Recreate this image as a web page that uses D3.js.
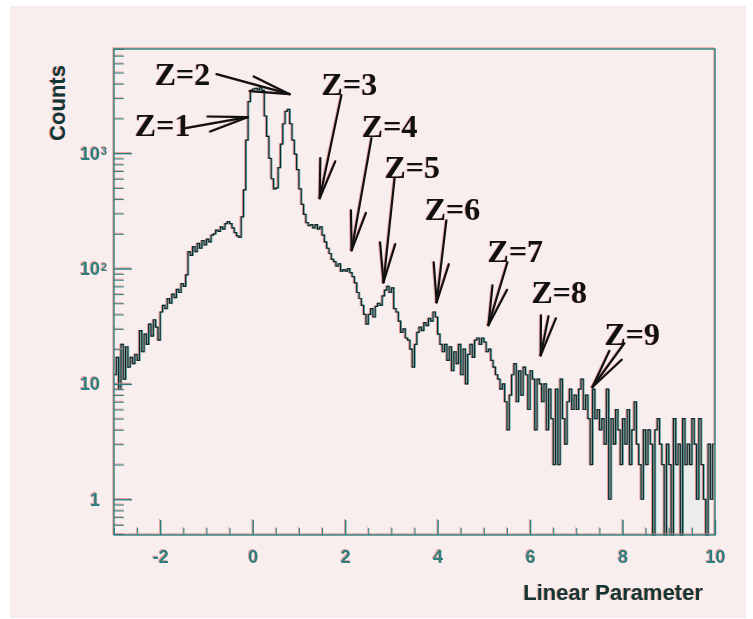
<!DOCTYPE html>
<html>
<head>
<meta charset="utf-8">
<script src="https://cdn.jsdelivr.net/npm/d3@7"></script>
<style>
  body { margin: 0; background: #fff; }
  svg { display: block; }
</style>
</head>
<body>
<svg width="753" height="619"></svg>
<script>
// Histogram: bins are 0.05 wide, starting at -3
const binStart = -3, binWidth = 0.05;
const counts = [
    12, 17, 9, 22, 11, 21, 14, 17, 15, 18, 16, 29, 19, 27, 22, 33, 26, 36, 31, 24,
    42, 48, 45, 55, 50, 60, 56, 66, 62, 74, 70, 88, 140, 130, 155, 140, 165, 150, 175, 160,
    180, 170, 195, 200, 215, 210, 230, 220, 245, 255, 245, 225, 205, 192, 186, 280, 480, 1300, 2800, 3500,
    3600, 3650, 3550, 3700, 3500, 2100, 1400, 900, 600, 490, 500, 750, 1200, 1800, 2300, 2400, 1800, 1300, 980, 720,
    490, 360, 295, 250, 235, 240, 225, 240, 220, 230, 195, 170, 150, 135, 120, 115, 105, 110, 95, 98,
    95, 100, 92, 85, 75, 62, 55, 48, 40, 33, 40, 45, 38, 47, 50, 48, 58, 65, 70, 62,
    68, 45, 42, 35, 28, 30, 25, 24, 20, 14, 22, 28, 31, 29, 34, 32, 37, 35, 42, 38,
    27, 22, 19, 22, 16, 21, 13, 19, 15, 22, 12, 20, 10, 18, 22, 17, 24, 25, 22, 25,
    23, 19, 20, 16, 14, 12, 11, 9, 10, 7, 4, 8, 12, 15, 7, 13, 8, 14, 12, 6,
    13, 11, 4, 11, 10, 7, 10, 4, 9, 5, 2, 9, 2, 11, 5, 3, 7, 9, 6, 8,
    6, 9, 11, 6, 8, 5, 2, 9, 5, 6, 4, 5, 3, 9, 1, 5, 3, 6, 4, 2,
    5, 3, 6, 2, 4, 7, 3, 2, 1, 4, 2, 4, 3, 0, 4, 5, 3, 2, 0, 3,
    2, 0, 5, 2, 3, 0, 5, 2, 3, 2, 5, 3, 1, 5, 2, 1, 0, 3, 1, 3
];

// light grey filled histogram in the tail
const fillStart = 8.65;
const fillCounts = [3, 3, 3, 3, 3, 0, 2, 2, 2, 2, 2, 2, 2, 2, 2, 2, 2, 2, 2, 2, 2, 2, 2];

// axes
const xDomain = [-3, 10];
const yDomain = [0.49, 8000];
const xMajorTicks = [-2, 0, 2, 4, 6, 8, 10];
const yDecades = [1, 10, 100, 1000];
const yDecadeBase = ["1", "10", "10", "10"];
const yDecadeExp = ["", "", "2", "3"];

// charge labels, text anchor and arrow ends in data coordinates (x, counts)
const labels = ["Z=1", "Z=2", "Z=3", "Z=4", "Z=5", "Z=6", "Z=7", "Z=8", "Z=9"];
const labelPos = [[-2.55, 1400], [-2.12, 3890], [1.49, 3185], [2.36, 1377], [2.85, 607], [3.72, 262], [5.08, 113], [6.03, 50], [7.61, 21.6]];
const arrowFrom = [[-1.45, 1648], [-0.78, 4842], [1.92, 3185], [2.57, 1349], [3.07, 607], [4.19, 262], [5.51, 113], [6.40, 38.6], [8.04, 22.5]];
const arrowTip = [[-0.11, 2051], [0.80, 3249], [1.45, 407], [2.14, 144], [2.83, 76], [3.98, 51], [5.10, 32.3], [6.23, 17.7], [7.35, 9.4]];

const svg = d3.select("svg"),
    margin = { top: 49, right: 38, bottom: 84, left: 114 },
    width = +svg.attr("width") - margin.left - margin.right,
    height = +svg.attr("height") - margin.top - margin.bottom;

// paper background
svg.append("rect").attr("width", 753).attr("height", 619).attr("fill", "#fff");
svg.append("rect").attr("x", 10).attr("y", 6).attr("width", 736).attr("height", 612).attr("fill", "#f8eeee");

const g = svg.append("g").attr("transform", `translate(${margin.left},${margin.top})`);

const x = d3.scaleLinear().domain(xDomain).range([0, width]);
const y = d3.scaleLog().domain(yDomain).range([height, 0]);
const yv = v => y(Math.max(v, yDomain[0]));

// histogram points (left edge of each bin, then the closing edge)
const pts = counts.map((c, i) => [binStart + i * binWidth, c]);
pts.push([binStart + counts.length * binWidth, counts[counts.length - 1]]);

const fillPts = fillCounts.map((c, i) => [fillStart + i * binWidth, c]);
fillPts.push([fillStart + fillCounts.length * binWidth, 0]);

g.append("path")
    .datum(fillPts)
    .attr("fill", "#ececec")
    .attr("d", d3.area().x(d => x(d[0])).y0(height).y1(d => yv(d[1])).curve(d3.curveStepAfter));

const line = d3.line().x(d => x(d[0])).y(d => yv(d[1])).curve(d3.curveStepAfter);

// scanned look: red and teal fringes around a dark core
[["#e26a6a", -1, 1.2, 0.7], ["#1f9c9c", 0.8, 1.1, 0.7], ["#102a2a", 0, 1.2, 1]].forEach(([c, dx, w, o]) => {
    g.append("path")
        .datum(pts)
        .attr("transform", `translate(${dx},0)`)
        .attr("fill", "none")
        .attr("stroke", c)
        .attr("stroke-width", w)
        .attr("stroke-opacity", o)
        .attr("d", line);
});

// frame, ticks and tick labels
function drawAxes(color, dx, dy, opacity) {
    const a = g.append("g")
        .attr("transform", `translate(${dx},${dy})`)
        .attr("color", color)
        .attr("opacity", opacity);

    a.append("rect")
        .attr("width", width).attr("height", height)
        .attr("fill", "none").attr("stroke", color).attr("stroke-width", 1.4);

    const xMinor = d3.range(-3, 10.001, 0.5).filter(v => !xMajorTicks.includes(v));
    a.append("g")
        .attr("transform", `translate(0,${height})`)
        .call(d3.axisBottom(x).tickValues(xMinor).tickSize(-7).tickFormat(""))
        .call(s => s.select(".domain").remove());

    a.append("g")
        .attr("transform", `translate(0,${height})`)
        .call(d3.axisBottom(x).tickValues(xMajorTicks).tickSize(-15).tickPadding(15).tickFormat(d => String(d)))
        .call(s => s.select(".domain").remove())
        .call(s => s.selectAll("line").attr("stroke-width", 1.4))
        .call(s => s.selectAll("text")
            .attr("font-family", "Liberation Sans, Arial, sans-serif")
            .attr("font-weight", "bold")
            .attr("font-size", 18));

    const yMinor = y.ticks().filter(v => !yDecades.includes(v));
    a.append("g")
        .call(d3.axisLeft(y).tickValues(yMinor).tickSize(-10).tickFormat(""))
        .call(s => s.select(".domain").remove());

    a.append("g")
        .call(d3.axisLeft(y).tickValues(yDecades).tickSize(-18).tickFormat(""))
        .call(s => s.select(".domain").remove())
        .call(s => s.selectAll("line").attr("stroke-width", 1.4));

    const lab = a.append("g")
        .attr("font-family", "Liberation Sans, Arial, sans-serif")
        .attr("font-weight", "bold")
        .attr("fill", color);

    yDecades.forEach((v, i) => {
        lab.append("text")
            .attr("x", -14)
            .attr("y", y(v))
            .attr("dy", "0.36em")
            .attr("text-anchor", "end")
            .attr("font-size", 18)
            .text(yDecadeBase[i]);
        if (yDecadeExp[i]) {
            lab.append("text")
                .attr("x", -13)
                .attr("y", y(v) + 2)
                .attr("font-size", 11)
                .text(yDecadeExp[i]);
        }
    });
}

drawAxes("#e47a7a", -1, -1, 0.7);
drawAxes("#2c7f7f", 0, 0, 1);

// axis titles
[["#e36b6b", -1, 0.6], ["#123636", 0, 1]].forEach(([c, d, o]) => {
    g.append("text")
        .attr("transform", `translate(${-49 + d},${54}) rotate(-90)`)
        .attr("text-anchor", "middle")
        .attr("font-family", "Liberation Sans, Arial, sans-serif")
        .attr("font-weight", "bold")
        .attr("font-size", 22)
        .attr("fill", c).attr("opacity", o)
        .text("Counts");

    g.append("text")
        .attr("x", width - 12 + d)
        .attr("y", height + 65)
        .attr("text-anchor", "end")
        .attr("font-family", "Liberation Sans, Arial, sans-serif")
        .attr("font-weight", "bold")
        .attr("font-size", 22)
        .attr("fill", c).attr("opacity", o)
        .text("Linear Parameter");
});

// charge annotations with open arrow heads
const barbLen = 40, barbAngle = 11 * Math.PI / 180;
const ann = g.append("g");

labels.forEach((name, i) => {
    const x0 = x(arrowFrom[i][0]), y0 = y(arrowFrom[i][1]);
    const x1 = x(arrowTip[i][0]), y1 = y(arrowTip[i][1]);
    const back = Math.atan2(y0 - y1, x0 - x1);

    const segs = [
        [x0, y0, x1, y1],
        [x1, y1, x1 + barbLen * Math.cos(back + barbAngle), y1 + barbLen * Math.sin(back + barbAngle)],
        [x1, y1, x1 + barbLen * Math.cos(back - barbAngle), y1 + barbLen * Math.sin(back - barbAngle)]
    ];

    [["#e36b6b", -1, 0.5], ["#111", 0, 1]].forEach(([c, d, o]) => {
        segs.forEach(s => {
            ann.append("line")
                .attr("x1", s[0] + d).attr("y1", s[1])
                .attr("x2", s[2] + d).attr("y2", s[3])
                .attr("stroke", c).attr("stroke-opacity", o)
                .attr("stroke-width", 2.2)
                .attr("stroke-linecap", "round");
        });
        ann.append("text")
            .attr("x", x(labelPos[i][0]) + d)
            .attr("y", y(labelPos[i][1]))
            .attr("font-family", "Liberation Serif, Times New Roman, serif")
            .attr("font-weight", "bold")
            .attr("font-size", 32)
            .attr("fill", c).attr("opacity", o)
            .text(name);
    });
});
</script>
</body>
</html>
